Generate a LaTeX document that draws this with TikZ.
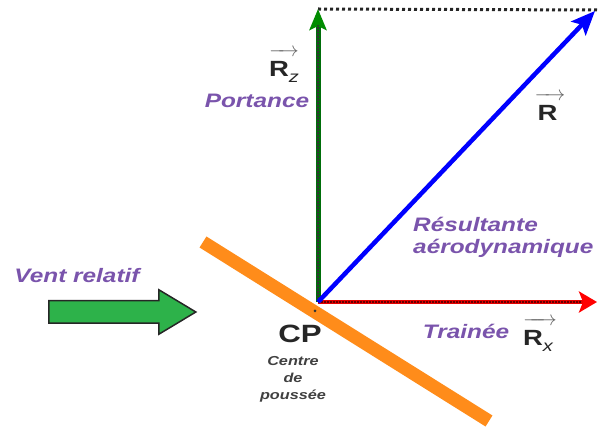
\documentclass[tikz,border=0pt]{standalone}
\usepackage{fontspec}
\setmainfont{Liberation Sans}[FakeStretch=1.25]
\usetikzlibrary{arrows.meta}
\usetikzlibrary{shapes.arrows}
\definecolor{lblpurple}{RGB}{122,84,172}
\definecolor{ventgreen}{RGB}{45,178,74}
\definecolor{barorange}{RGB}{255,140,26}
\definecolor{portgreen}{RGB}{0,110,10}
\newcommand{\vecteur}[1]{%
	\begin{tabular}{@{}c@{}}\textcolor{black!60}{\rightarrowfill}\\[-4pt]#1\end{tabular}%
}
\newcommand{\indice}[1]{%
	\raisebox{-0.45ex}{\fontsize{16}{16}\selectfont\mdseries\itshape #1}%
}
\tikzset{
	lbl/.style={font=\fontsize{19.5}{22}\selectfont\bfseries\itshape, text=lblpurple},
	veclbl/.style={font=\fontsize{22}{24}\selectfont\bfseries, text=black!85},
	dotover/.style={postaction={-, draw=#1, line width=2pt, dash pattern=on 1.5pt off 1.5pt, shorten >=16pt}}
}

\begin{document}
\begin{tikzpicture}[x=1pt, y=-1pt]
\useasboundingbox (0,0) rectangle (598,430);

\coordinate (O) at (318,302);
\coordinate (Rz) at (318,9);
\coordinate (R) at (595,11);
\coordinate (Rx) at (597,302);
\coordinate (C) at (598,10);

% profil
\draw[barorange, line width=13pt] (203,242) -- (489,421);
\fill[black!80] (315,311) circle (1.5);

% composantes
\draw[black!85, line width=3pt, dash pattern=on 3pt off 3pt] (Rz) -- (C);
\draw[portgreen, line width=5pt, -{Stealth[length=21pt, width=17pt, inset=4pt, color=green!55!black]},
	dotover=black!80] (O) -- (Rz);
\draw[red!90!black, line width=4.5pt, -{Stealth[length=18pt, width=21pt, inset=4pt, color=red]},
	dotover=black!60!red] (O) -- (Rx);
\draw[blue, line width=4.5pt, -{Stealth[length=24pt, width=20pt, inset=5pt]}] (O) -- (R);

% vent
\node[single arrow, draw=black!85, line width=1.5pt, fill=ventgreen, minimum height=147pt,
	single arrow head extend=11pt, single arrow tip angle=62,
	inner xsep=0pt, inner ysep=10.5pt] (vent) at (113,312) {};
\node[lbl] (ventlbl) at (77,276) {Vent relatif};

% textes
\node[lbl] (portance) at (257,101) {Portance};
\node[veclbl] (rz) at (284,62) {\vecteur{R\indice{z}}};
\node[veclbl] (r) at (550,106) {\vecteur{\kern3pt R\kern8pt}};
\node[lbl, anchor=west, align=left, inner sep=0pt] (result) at (413,237)
	{Résultante\\aérodynamique};
\node[lbl] (trainee) at (466,331) {Trainée};
\node[veclbl] (rx) at (540,331) {\vecteur{R\indice{x}\kern4pt}};
\node[font=\fontsize{25}{27}\selectfont\bfseries, text=black!85] (cp) at (300,334) {CP};
\node[align=center, text=black!75, font=\fontsize{13}{17}\selectfont\bfseries\itshape] (centre) at (293,379)
	{Centre\\de\\poussée};
\end{tikzpicture}
\end{document}
